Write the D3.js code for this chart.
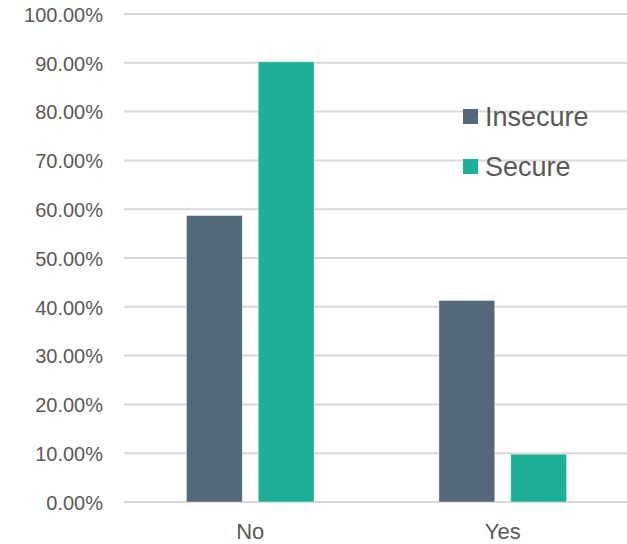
<!DOCTYPE html>
<html>
<head>
<meta charset="utf-8">
<script src="https://cdn.jsdelivr.net/npm/d3@7/dist/d3.min.js"></script>
<style>
  html, body { margin: 0; padding: 0; background: #fff; }
  svg { display: block; font-family: "Liberation Sans", Arial, sans-serif; }
</style>
</head>
<body>
<svg id="chart" width="627" height="544"></svg>
<script>
const categories = ["No", "Yes"];
const seriesNames = ["Insecure", "Secure"];
const insecureValues = [58.7, 41.3];
const secureValues = [90.2, 9.8];
const yTicks = [0, 10, 20, 30, 40, 50, 60, 70, 80, 90, 100];
const colors = ["#55677b", "#1daf97"];

(function () {
const seriesValues = [insecureValues, secureValues];
const rows = categories.map((c, i) => ({
  cat: c,
  vals: seriesNames.map((s, j) => ({ key: s, value: seriesValues[j][i], color: colors[j] }))
}));

const svg = d3.select("#chart");
const mLeft = 124, mRight = 629, mTop = 14, mBottom = 502;

const y = d3.scaleLinear().domain([0, 100]).range([mBottom, mTop]);
const x0 = d3.scaleBand().domain(categories).range([mLeft, mRight]).padding(0);
const x1 = d3.scaleBand().domain(seriesNames).range([0, x0.bandwidth()])
  .paddingInner(16 / 72).paddingOuter(0.87);

// gridlines
svg.append("g").selectAll("line").data(yTicks).join("line")
  .attr("x1", mLeft).attr("x2", 627)
  .attr("y1", d => y(d)).attr("y2", d => y(d))
  .attr("stroke", "#d9d9d9").attr("stroke-width", 2);

// y axis labels
const yAxis = d3.axisLeft(y).tickValues(yTicks).tickSize(0).tickPadding(0)
  .tickFormat(d => d.toFixed(2) + "%");
const gy = svg.append("g").attr("transform", `translate(103,0)`).call(yAxis);
gy.select(".domain").remove();
gy.selectAll("text").attr("fill", "#595959").style("font-size", "20px")
  .attr("dy", "0.36em")
  .attr("font-family", "'Liberation Sans', Arial, sans-serif");

// bars
const groups = svg.append("g").selectAll("g").data(rows).join("g")
  .attr("transform", d => `translate(${x0(d.cat)},0)`);
groups.selectAll("rect").data(d => d.vals).join("rect")
  .attr("x", d => x1(d.key))
  .attr("width", x1.bandwidth())
  .attr("y", d => y(d.value))
  .attr("height", d => y(0) - y(d.value))
  .attr("fill", d => d.color)
  .attr("stroke", "rgba(255,255,255,0.5)").attr("stroke-width", 0.8);

// x axis labels
const xAxis = d3.axisBottom(x0).tickSize(0).tickPadding(0);
const gx = svg.append("g").attr("transform", `translate(0,${mBottom})`).call(xAxis);
gx.select(".domain").remove();
gx.selectAll("text").attr("fill", "#595959").style("font-size", "22px")
  .attr("dy", "37px")
  .attr("font-family", "'Liberation Sans', Arial, sans-serif");

// legend
const legend = svg.append("g").attr("transform", "translate(463,109)");
const li = legend.selectAll("g").data(seriesNames).join("g")
  .attr("transform", (d, i) => `translate(0,${i * 50})`);
li.append("rect").attr("width", 15).attr("height", 15)
  .attr("fill", (d, i) => colors[i]);
li.append("text").attr("x", 22).attr("y", 17).text(d => d)
  .attr("fill", "#595959").style("font-size", "27px")
  .attr("font-family", "'Liberation Sans', Arial, sans-serif");
})();
</script>
</body>
</html>
